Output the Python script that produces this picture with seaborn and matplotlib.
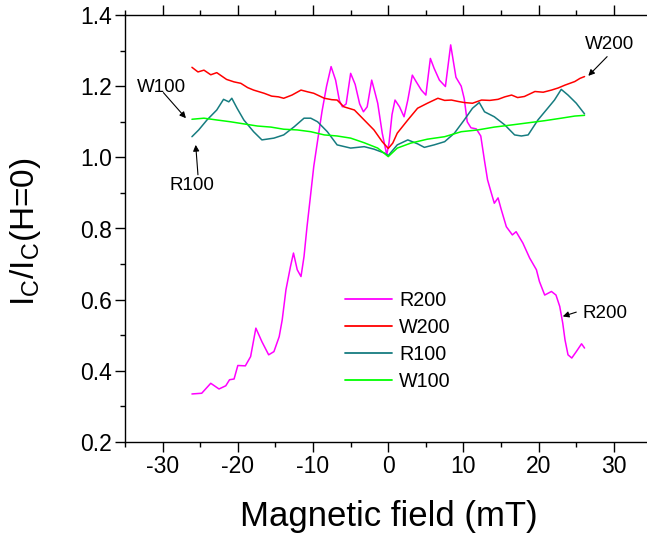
import numpy as np
import pandas as pd
import matplotlib
matplotlib.use("Agg")
import matplotlib.pyplot as plt
from matplotlib.ticker import MultipleLocator, FormatStrFormatter
import seaborn as sns

# ---- data ----
r200_x = [-26.1, -24.8, -23.6, -22.5, -21.6, -21.1, -20.5, -20.0, -19.0, -18.3, -17.6, -16.8,
          -15.9, -15.2, -14.5, -14.1, -13.6, -13.0, -12.6, -12.1, -11.6, -11.2, -10.8, -10.4,
          -9.9, -9.3, -8.8, -8.2, -7.6, -7.0, -6.5, -6.1, -5.6, -5.0, -4.4, -3.8, -3.3, -2.8,
          -2.2, -1.8, -1.4, -0.8, -0.2, 0.1, 0.5, 0.9, 1.5, 2.1, 2.6, 3.2, 3.7, 4.4, 5.0, 5.6,
          6.1, 6.8, 7.6, 8.3, 9.0, 9.7, 10.1, 10.5, 11.0, 11.7, 12.3, 12.8, 13.2, 13.7, 14.1,
          14.6, 15.0, 15.7, 16.5, 17.0, 17.9, 18.8, 19.7, 20.1, 20.8, 21.7, 22.3, 22.8, 23.2,
          23.5, 23.9, 24.4, 25.0, 25.7, 26.1]
r200_y = [0.335, 0.337, 0.365, 0.349, 0.358, 0.375, 0.377, 0.415, 0.414, 0.440, 0.520, 0.482,
          0.445, 0.454, 0.496, 0.543, 0.628, 0.693, 0.731, 0.684, 0.665, 0.721, 0.805, 0.880,
          0.975, 1.060, 1.130, 1.200, 1.255, 1.217, 1.160, 1.142, 1.150, 1.236, 1.205, 1.150,
          1.128, 1.142, 1.217, 1.185, 1.152, 1.068, 1.007, 1.040, 1.120, 1.161, 1.142, 1.114,
          1.161, 1.231, 1.213, 1.189, 1.175, 1.278, 1.250, 1.217, 1.199, 1.316, 1.225, 1.200,
          1.165, 1.100, 1.083, 1.080, 1.060, 0.990, 0.937, 0.900, 0.871, 0.886, 0.855, 0.805,
          0.782, 0.791, 0.759, 0.717, 0.684, 0.651, 0.613, 0.623, 0.613, 0.581, 0.534, 0.487,
          0.445, 0.436, 0.454, 0.476, 0.464]

w200_x = [-26.1, -25.3, -24.5, -23.6, -22.8, -21.5, -20.5, -19.6, -18.7, -17.9, -16.5, -15.5,
          -14.6, -13.9, -12.8, -11.6, -10.7, -9.9, -8.5, -7.5, -6.8, -5.9, -4.5, -3.2, -1.9,
          -0.8, 0.0, 0.6, 1.2, 2.6, 3.9, 5.2, 6.6, 7.5, 8.4, 9.3, 10.1, 11.2, 12.4, 13.5, 14.6,
          15.5, 16.4, 17.2, 18.1, 19.5, 20.6, 21.7, 22.6, 23.5, 24.8, 25.5, 26.1]
w200_y = [1.253, 1.240, 1.245, 1.232, 1.238, 1.219, 1.212, 1.208, 1.196, 1.189, 1.180, 1.172,
          1.170, 1.166, 1.175, 1.189, 1.184, 1.180, 1.166, 1.162, 1.161, 1.142, 1.133, 1.105,
          1.077, 1.044, 1.025, 1.040, 1.068, 1.105, 1.138, 1.152, 1.166, 1.160, 1.161, 1.157,
          1.154, 1.152, 1.161, 1.160, 1.163, 1.170, 1.175, 1.168, 1.171, 1.185, 1.183, 1.189,
          1.195, 1.203, 1.213, 1.222, 1.227]

r100_x = [-26.1, -25.2, -24.1, -22.8, -21.9, -21.2, -20.8, -20.1, -19.2, -17.9, -16.8, -15.2,
          -13.9, -12.5, -11.2, -10.3, -9.4, -8.1, -6.8, -5.0, -3.2, -1.9, -0.5, 0.0, 1.2, 2.6,
          3.9, 4.8, 6.1, 7.5, 8.8, 10.1, 11.2, 12.1, 12.8, 14.1, 15.5, 16.8, 17.7, 18.6, 19.9,
          21.2, 22.1, 23.0, 23.9, 25.0, 26.1]
r100_y = [1.058, 1.077, 1.105, 1.133, 1.163, 1.156, 1.166, 1.138, 1.105, 1.072, 1.049, 1.054,
          1.063, 1.086, 1.110, 1.110, 1.100, 1.072, 1.035, 1.026, 1.030, 1.023, 1.012, 1.005,
          1.035, 1.049, 1.038, 1.028, 1.035, 1.044, 1.068, 1.105, 1.138, 1.154, 1.128, 1.114,
          1.091, 1.063, 1.060, 1.063, 1.105, 1.138, 1.161, 1.191, 1.175, 1.152, 1.122]

w100_x = [-26.1, -24.5, -22.8, -21.0, -19.2, -17.4, -15.6, -13.9, -12.1, -10.3, -8.5, -6.8,
          -5.0, -3.2, -1.4, 0.0, 1.2, 3.0, 5.2, 7.5, 9.7, 11.9, 14.1, 16.4, 18.6, 20.8, 23.0,
          24.8, 26.1]
w100_y = [1.107, 1.110, 1.105, 1.100, 1.094, 1.088, 1.085, 1.079, 1.077, 1.072, 1.063, 1.060,
          1.054, 1.041, 1.026, 1.002, 1.026, 1.040, 1.051, 1.058, 1.072, 1.077, 1.085, 1.091,
          1.097, 1.103, 1.110, 1.116, 1.118]

series_names = ["R200", "W200", "R100", "W100"]
series_colors = ["#FF00FF", "#FF0000", "#167C80", "#00FF00"]

# annotations: (label, text position, arrow tail, arrow head)
annot_labels = ["W200", "W100", "R100", "R200"]
annot_text_xy = [(29.4, 1.316), (-30.2, 1.196), (-26.1, 0.922), (25.8, 0.560)]
annot_tail_xy = [(29.1, 1.283), (-29.9, 1.182), (-25.3, 0.951), (25.0, 0.565)]
annot_head_xy = [(26.6, 1.229), (-26.9, 1.110), (-25.6, 1.035), (23.2, 0.553)]
annot_ha = ["center", "center", "center", "left"]

xticks = [-30, -20, -10, 0, 10, 20, 30]
yticks = [0.2, 0.4, 0.6, 0.8, 1.0, 1.2, 1.4]

# ---- build long-form table ----
frames = []
for name, xs, ys in zip(series_names, [r200_x, w200_x, r100_x, w100_x],
                        [r200_y, w200_y, r100_y, w100_y]):
    frames.append(pd.DataFrame({"field": xs, "ratio": ys, "sample": name}))
df = pd.concat(frames, ignore_index=True)

sns.set_style("ticks")
plt.rcParams["font.family"] = ["Liberation Sans", "DejaVu Sans"]
plt.rcParams["axes.unicode_minus"] = False
plt.rcParams["mathtext.fontset"] = "custom"
plt.rcParams["mathtext.rm"] = "Liberation Sans"
plt.rcParams["text.color"] = "black"
plt.rcParams["axes.labelcolor"] = "black"
plt.rcParams["xtick.color"] = "black"
plt.rcParams["ytick.color"] = "black"

W, H = 647, 541
fig = plt.figure(figsize=(W / 100, H / 100), dpi=100)
ax = fig.add_axes([125 / W, 99 / H, 526.5 / W, 427 / H])

sns.lineplot(data=df, x="field", y="ratio", hue="sample", hue_order=series_names,
             palette=series_colors, estimator=None, sort=False, linewidth=1.1, ax=ax)

ax.set_xlim(-35, 35)
ax.set_ylim(0.2, 1.4)
ax.set_xticks(xticks)
ax.set_yticks(yticks)
ax.xaxis.set_minor_locator(MultipleLocator(5))
ax.yaxis.set_minor_locator(MultipleLocator(0.1))
ax.xaxis.set_major_formatter(FormatStrFormatter("%d"))
ax.yaxis.set_major_formatter(FormatStrFormatter("%.1f"))
ax.tick_params(which="both", direction="out", top=True, bottom=True, left=True,
               right=False, labeltop=False, width=1.0, colors="black")
ax.tick_params(which="major", length=7, labelsize=16.5, pad=2.5)
ax.tick_params(which="minor", length=3.8)
ax.spines["right"].set_visible(False)
for s in ["left", "bottom", "top"]:
    ax.spines[s].set_linewidth(1.0)
    ax.spines[s].set_color("black")

ax.set_xlabel("Magnetic field (mT)", fontsize=25)
ax.set_ylabel(r"I$_\mathregular{C}$/I$_\mathregular{C}$(H=0)", fontsize=24)
ax.xaxis.set_label_coords((389 - 125) / 526.5, (442 - 500) / 427)
ax.yaxis.set_label_coords((43 - 125) / 526.5, (442 - 232) / 427)

leg = ax.legend(loc="upper left", bbox_to_anchor=(345 / W, 1 - 291 / H),
                bbox_transform=fig.transFigure, frameon=False, fontsize=14.2,
                handlelength=2.4, handletextpad=0.35, labelspacing=0.4,
                borderpad=0, borderaxespad=0)
for line in leg.get_lines():
    line.set_linewidth(1.3)

for lab, txy, tail, head, ha in zip(annot_labels, annot_text_xy, annot_tail_xy,
                                    annot_head_xy, annot_ha):
    ax.text(txy[0], txy[1], lab, ha=ha, va="center", fontsize=13.5, color="black",
            clip_on=False)
    ax.annotate("", xy=head, xytext=tail,
                arrowprops=dict(arrowstyle="-|>", color="black", lw=0.8,
                                mutation_scale=9, shrinkA=0, shrinkB=0),
                annotation_clip=False)

fig.savefig("out.png", dpi=100)
